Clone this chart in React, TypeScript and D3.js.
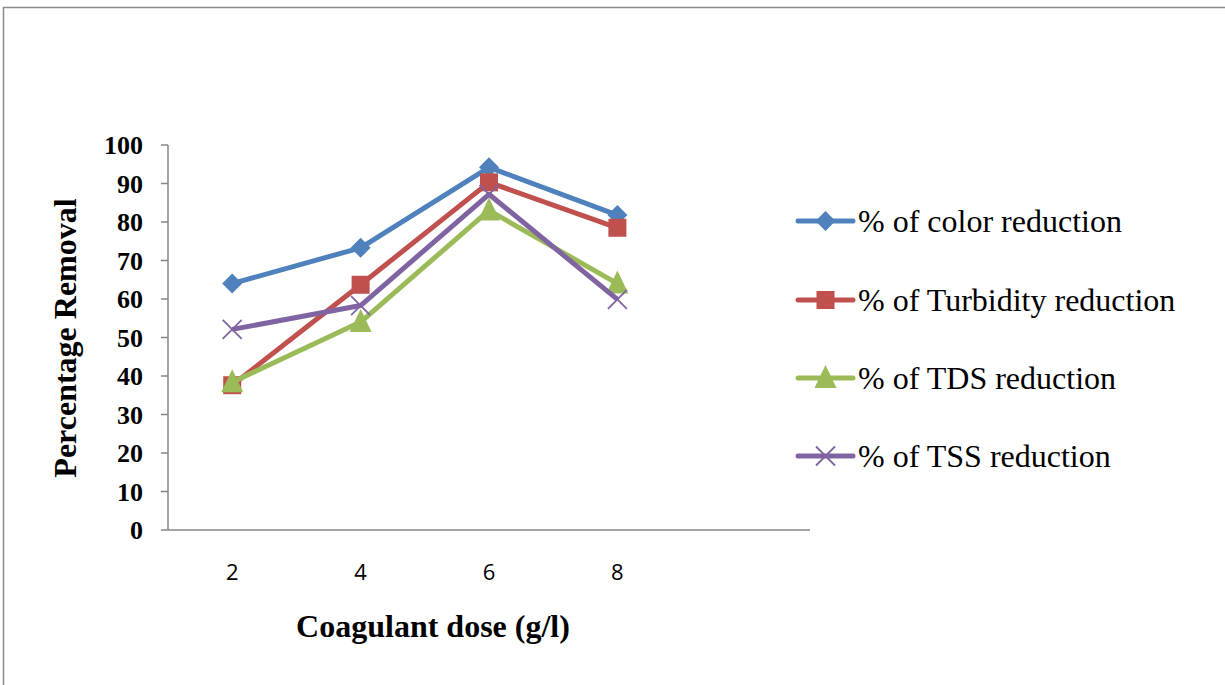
import React from "react";
import * as d3 from "d3";

const categories = ["2", "4", "6", "8", ""];
const colorReduction = [64, 73.3, 94.2, 81.8];
const turbidityReduction = [37.6, 63.7, 90.3, 78.5];
const tdsReduction = [38.4, 54, 83, 64];
const tssReduction = [52.1, 58.3, 87.2, 59.9];
const yTicks = [0, 10, 20, 30, 40, 50, 60, 70, 80, 90, 100];

const seriesList = [
  { name: "% of color reduction", values: colorReduction, color: "#4F81BD", marker: "diamond" },
  { name: "% of Turbidity reduction", values: turbidityReduction, color: "#C0504D", marker: "square" },
  { name: "% of TDS reduction", values: tdsReduction, color: "#9BBB59", marker: "triangle" },
  { name: "% of TSS reduction", values: tssReduction, color: "#8064A2", marker: "x" },
];

const W = 1225;
const H = 685;
const plot = { left: 168, right: 810, top: 145, bottom: 530 };
const SERIF = "'Liberation Serif', 'Times New Roman', Times, serif";
const SANS = "'Open Sans', 'Liberation Sans', sans-serif";

function Marker({ type, x, y, color }: { type: string; x: number; y: number; color: string }) {
  if (type === "diamond") {
    const s = 10;
    return <path d={`M${x},${y - s}L${x + s},${y}L${x},${y + s}L${x - s},${y}Z`} fill={color} />;
  }
  if (type === "square") {
    const s = 9;
    return <rect x={x - s} y={y - s} width={2 * s} height={2 * s} fill={color} />;
  }
  if (type === "triangle") {
    const s = 11;
    return <path d={`M${x},${y - s - 2}L${x + s},${y + s - 1}L${x - s},${y + s - 1}Z`} fill={color} />;
  }
  const s = 9.5;
  return (
    <path
      d={`M${x - s},${y - s}L${x + s},${y + s}M${x - s},${y + s}L${x + s},${y - s}`}
      stroke={color}
      strokeWidth={1.8}
      fill="none"
    />
  );
}

export default function App() {
  const x = d3
    .scaleBand<string>()
    .domain(categories)
    .range([plot.left, plot.right])
    .padding(0);
  const y = d3.scaleLinear().domain([0, 100]).range([plot.bottom, plot.top]);
  const cx = (i: number) => (x(categories[i]) as number) + x.bandwidth() / 2;

  const line = d3
    .line<number>()
    .x((_, i) => cx(i))
    .y((d) => y(d));

  const legendX1 = 798;
  const legendX2 = 853;
  const legendRows = [221, 300, 378, 456];

  return (
    <svg
      width={W}
      height={H}
      style={{ position: "absolute", left: 0, top: 0, background: "#fff" }}
    >
      <rect x={3.5} y={7.5} width={1400} height={900} fill="none" stroke="#8a8a8a" strokeWidth={1.5} />

      {/* Y axis */}
      <line x1={plot.left} x2={plot.left} y1={plot.top} y2={plot.bottom} stroke="#868686" strokeWidth={1.5} />
      {yTicks.map((t) => (
        <g key={t}>
          <line x1={plot.left - 7} x2={plot.left} y1={y(t)} y2={y(t)} stroke="#868686" strokeWidth={1.5} />
          <text
            x={143}
            y={y(t)}
            dy="0.35em"
            textAnchor="end"
            style={{ fontFamily: SERIF, fontWeight: "bold", fontSize: 26 }}
            fill="#000"
          >
            {t}
          </text>
        </g>
      ))}

      {/* X axis */}
      <line x1={plot.left} x2={plot.right} y1={plot.bottom} y2={plot.bottom} stroke="#868686" strokeWidth={1.5} />
      {categories.map((c, i) => (
        <text
          key={i}
          x={cx(i)}
          y={580}
          textAnchor="middle"
          style={{ fontFamily: SANS, fontSize: 22 }}
          fill="#000"
        >
          {c}
        </text>
      ))}

      {/* Series */}
      {seriesList.map((s) => (
        <g key={s.name}>
          <path d={line(s.values) || ""} fill="none" stroke={s.color} strokeWidth={5} strokeLinejoin="round" />
          {s.values.map((v, i) => (
            <Marker key={i} type={s.marker} x={cx(i)} y={y(v)} color={s.color} />
          ))}
        </g>
      ))}

      {/* Axis titles */}
      <text
        transform={`translate(76,338) rotate(-90)`}
        textAnchor="middle"
        style={{ fontFamily: SERIF, fontWeight: "bold", fontSize: 32 }}
        fill="#000"
      >
        Percentage Removal
      </text>
      <text
        x={433}
        y={637}
        textAnchor="middle"
        style={{ fontFamily: SERIF, fontWeight: "bold", fontSize: 32 }}
        fill="#000"
      >
        Coagulant dose (g/l)
      </text>

      {/* Legend */}
      {seriesList.map((s, i) => (
        <g key={s.name}>
          <line
            x1={legendX1}
            x2={legendX2}
            y1={legendRows[i]}
            y2={legendRows[i]}
            stroke={s.color}
            strokeWidth={5}
            strokeLinecap="round"
          />
          <Marker type={s.marker} x={(legendX1 + legendX2) / 2} y={legendRows[i]} color={s.color} />
          <text
            x={858}
            y={legendRows[i]}
            dy="0.33em"
            style={{ fontFamily: SERIF, fontSize: 32 }}
            fill="#000"
          >
            {s.name}
          </text>
        </g>
      ))}
    </svg>
  );
}
